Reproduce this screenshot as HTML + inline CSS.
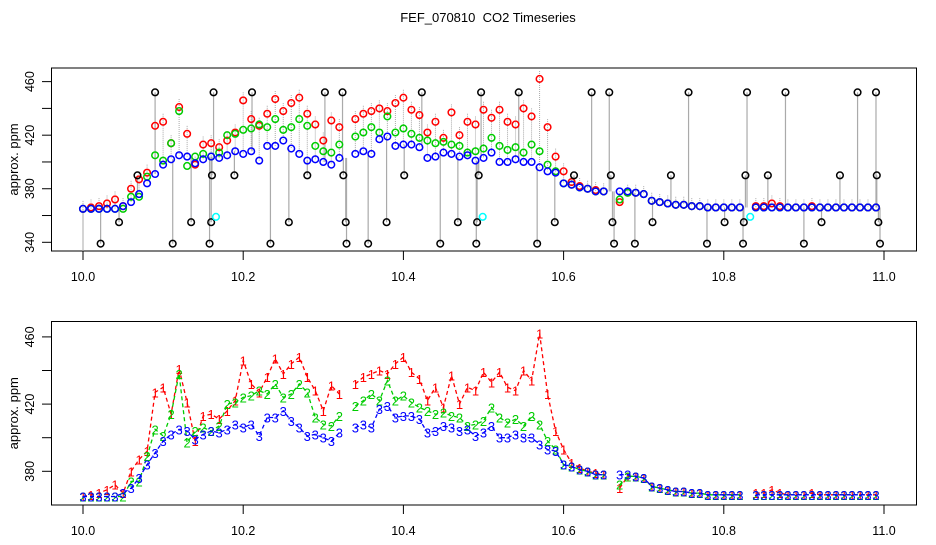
<!DOCTYPE html>
<html><head><meta charset="utf-8"><style>
body{margin:0;background:#fff;}
svg text{font-family:"Liberation Sans",sans-serif;}
</style></head><body>
<svg id="chart" width="936" height="540" xmlns="http://www.w3.org/2000/svg">
<rect width="936" height="540" fill="#fff"/>
<text x="488" y="22" font-size="13" text-anchor="middle">FEF_070810&#160; CO2 Timeseries</text>
<g id="topPanel"></g>
<g id="botPanel"></g>
</svg>
<script>
// time grid: 10.00 + i*0.01
const tStart = 10.0, tStep = 0.01;
const red = [365,366,367,369,372,367,380,387,392,427,430,414,441,421,398,413,414,411,416,422,446,432,427,436,447,438,444,448,436,428,416,431,426,null,432,436,438,440,438,444,448,439,435,422,430,418,437,420,430,428,
439,433,439,430,428,440,434,462,426,404,393,385,382,380,379,378,null,
370,377,377,376,371,370,369,368,368,367,367,366,366,366,366,366,null,
367,367,369,367,366,366,366,367,366,366,366,366,366,366,366,366];
const green = [365,365,365,365,365,365,374,374,389,405,401,414,438,397,404,406,404,407,420,421,424,425,428,426,432,424,426,432,427,412,408,407,413,null,419,422,426,422,434,422,425,421,418,416,414,415,413,412,407,408,
410,418,412,409,411,407,413,408,398,393,384,383,381,380,378,378,null,
372,377,377,376,371,370,369,368,368,367,367,366,366,366,366,366,null,
366,366,366,366,366,366,366,366,366,366,366,366,366,366,366,366];
const blue = [365,365,365,365,365,367,370,376,384,391,398,402,405,404,399,402,404,403,405,408,406,408,401,412,412,416,410,406,401,402,400,398,403,null,406,408,406,417,419,412,413,413,411,403,404,407,406,404,405,401,
403,407,400,400,402,400,400,396,393,392,384,383,381,380,378,378,null,
378,378,377,376,371,370,369,368,368,367,367,366,366,366,366,366,null,
366,366,366,366,366,366,366,366,366,366,366,366,366,366,366,366];
const outT = [10.022,10.045,10.068,10.09,10.112,10.135,10.158,10.16,10.161,10.163,10.189,10.211,10.234,10.257,10.28,10.302,10.324,10.325,10.328,10.329,10.356,10.379,10.401,10.423,10.446,10.468,10.491,10.492,10.494,10.497,10.544,10.567,10.589,10.613,10.635,10.657,10.659,10.661,10.663,10.689,10.711,10.734,10.756,10.779,10.801,10.824,10.825,10.827,10.829,10.855,10.877,10.9,10.922,10.945,10.967,10.99,10.991,10.993,10.995];
const outV = [339,355,390,452,339,355,339,355,390,452,390,452,339,355,390,452,452,390,355,339,339,355,390,452,339,355,339,355,390,452,452,339,355,390,452,452,390,355,339,339,355,390,452,339,355,339,355,390,452,390,452,339,355,390,452,452,390,355,339];
const cyanT = [10.166,10.499,10.833];
const cyanV = [359,359,359];
const xTicks = [10.0,10.2,10.4,10.6,10.8,11.0];
const xTickLabels = ["10.0","10.2","10.4","10.6","10.8","11.0"];
const topYTicks = [340,360,380,400,420,440,460];
const topYLabels = ["340","","380","","420","","460"];
const botYTicks = [380,400,420,440,460];
const botYLabels = ["380","","420","","460"];

const NS="http://www.w3.org/2000/svg";
function mk(parent,tag,attrs,txt){const e=document.createElementNS(NS,tag);for(const k in attrs)e.setAttribute(k,attrs[k]);if(txt!==undefined)e.textContent=txt;parent.appendChild(e);return e;}
const xS = t => 83 + (t-10)*801;
const tOf = i => tStart + i*tStep;
const yTop = v => 242.3 - (v-340)*1.339;
const yBot = v => 471.3 - (v-380)*1.68;

function axes(g, y0, y1, yS, yT, yL, nm){
  const b=mk(g,'rect',{x:51.5,y:y0,width:865,height:y1-y0,fill:'none',stroke:'#000','stroke-width':1});
  
  
  xTicks.forEach((t,i)=>{
    const l=mk(g,'line',{x1:xS(t),x2:xS(t),y1:y1,y2:y1+9,stroke:'#000'});
    
    
    const tx=mk(g,'text',{x:xS(t),y:y1+30,'font-size':12.5,'text-anchor':'middle'},xTickLabels[i]);
    
    
  });
  yT.forEach((v,i)=>{
    const y=yS(v);
    const l=mk(g,'line',{x1:42,x2:51.5,y1:y,y2:y,stroke:'#000'});
    
    
    if(yL[i]){
      const tx=mk(g,'text',{x:0,y:0,'font-size':12.5,'text-anchor':'middle',transform:`translate(34,${y}) rotate(-90)`},yL[i]);
      
      
    }
  });
  const yt=mk(g,'text',{x:0,y:0,'font-size':13,'text-anchor':'middle',transform:`translate(18,${(y0+y1)/2}) rotate(-90)`},'approx. ppm');
  
  
}

// TOP PANEL
const topG=document.getElementById('topPanel');
axes(topG,68,251,yTop,topYTicks,topYLabels,'top');
for(let i=0;i<blue.length;i++){
  if(red[i]==null||blue[i]==null)continue;
  const l=mk(topG,'line',{x1:xS(tOf(i)),x2:xS(tOf(i)),y1:yTop(red[i])-8,y2:yTop(blue[i]),stroke:'#aaa','stroke-dasharray':'1,1'});
  
  
}
outT.forEach((t,k)=>{
  const i=Math.min(blue.length-1,Math.max(0,Math.round((t-tStart)/tStep)));
  let b=blue[i]; if(b==null) b=(i>0&&blue[i-1]!=null)?blue[i-1]:365;
  const l=mk(topG,'line',{x1:xS(t),x2:xS(t),y1:yTop(outV[k]),y2:yTop(b),stroke:'#aaa','stroke-width':1.2});
  
  
});
mk(topG,'line',{x1:xS(10),x2:xS(10),y1:yTop(365),y2:251,stroke:'#aaa'});
function circles(arr,col,nm){
  arr.forEach((v,i)=>{
    if(v==null)return;
    const c=mk(topG,'circle',{cx:xS(tOf(i)),cy:yTop(v),r:3.3,fill:'none',stroke:col,'stroke-width':1.5});
    
    
  });
}
circles(red,'#f00','red-point');
circles(green,'#0c0','green-point');
circles(blue,'#00f','blue-point');
outT.forEach((t,k)=>{
  const c=mk(topG,'circle',{cx:xS(t),cy:yTop(outV[k]),r:3.3,fill:'none',stroke:'#000','stroke-width':1.5});
  
  
});
cyanT.forEach((t,k)=>{
  const c=mk(topG,'circle',{cx:xS(t),cy:yTop(cyanV[k]),r:3.3,fill:'none',stroke:'#0ff','stroke-width':1.5});
  
  
});

// BOTTOM PANEL
const botG=document.getElementById('botPanel');
axes(botG,321.5,505,yBot,botYTicks,botYLabels,'bottom');
function series(arr,col,ch,nm){
  let d='',pen=false;
  arr.forEach((v,i)=>{
    if(v==null){pen=false;return;}
    d+=(pen?'L':'M')+xS(tOf(i)).toFixed(1)+','+yBot(v).toFixed(1);pen=true;
  });
  const p=mk(botG,'path',{d:d,fill:'none',stroke:col,'stroke-width':1.3,'stroke-dasharray':'4,3'});
  
  
  arr.forEach((v,i)=>{
    if(v==null)return;
    const t=mk(botG,'text',{x:xS(tOf(i)),y:yBot(v)+5,'font-size':13,fill:col,'text-anchor':'middle'},ch);
    
    
  });
}
series(red,'#f00','1','series-1');
series(green,'#0c0','2','series-2');
series(blue,'#00f','3','series-3');
</script>
</body></html>
